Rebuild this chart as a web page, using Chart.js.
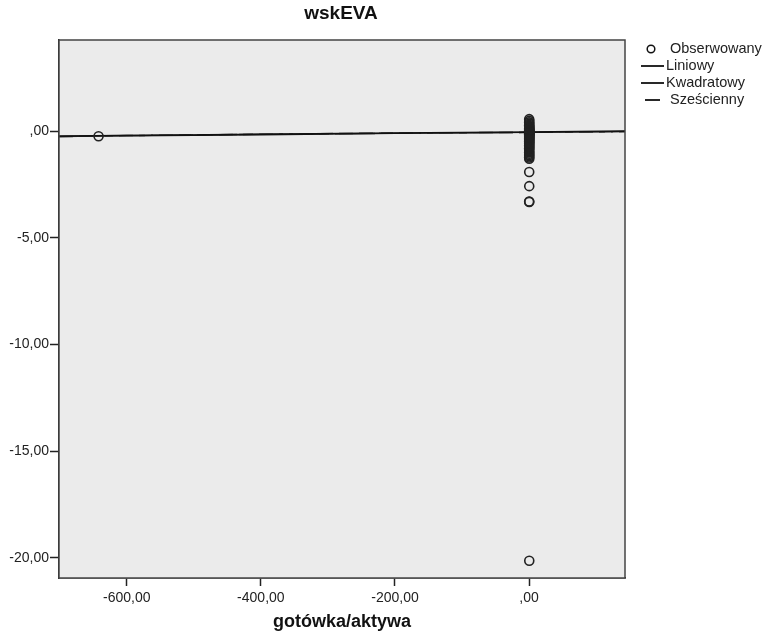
<!DOCTYPE html>
<html>
<head>
<meta charset="utf-8">
<script src="https://cdn.jsdelivr.net/npm/chart.js@4.4.0/dist/chart.umd.min.js"></script>
<style>
  html, body { margin: 0; padding: 0; background: #fff; }
  #wrap { width: 770px; height: 631px; }
</style>
</head>
<body>
<div id="wrap"><canvas id="chartCanvas" width="770" height="631"></canvas></div>
<script>
// observed values (gotówka/aktywa, wskEVA)
const obsX = [-642,
  0.12, 0.25, 0.08, 0.31, 0.18, 0.05, 0.22, 0.4, 0.15, 0.09,
  0.27, 0.11, 0.35, 0.2, 0.06, 0.14, 0.3, 0.24, 0.1, 0.17,
  0.38, 0.07, 0.21, 0.13, 0.28, 0.16, 0.33, 0.09, 0.19, 0.26,
  0.12, 0.36, 0.08, 0.23, 0.15, 0.29, 0.11, 0.2, 0.34, 0.06,
  0.18, 0.25, 0.1, 0.31, 0.14, 0.22, 0.09, 0.27,
  0.16, 0.21, 0.12, 0.19, 0.24];
const obsY = [-0.24,
  0.56, 0.48, 0.41, 0.35, 0.3, 0.25, 0.21, 0.17, 0.13, 0.1,
  0.07, 0.04, 0.02, 0.0, -0.02, -0.04, -0.06, -0.08, -0.1, -0.12,
  -0.14, -0.16, -0.18, -0.2, -0.23, -0.26, -0.29, -0.32, -0.35, -0.38,
  -0.42, -0.46, -0.5, -0.54, -0.58, -0.62, -0.67, -0.72, -0.77, -0.82,
  -0.88, -0.94, -1.0, -1.06, -1.12, -1.18, -1.24, -1.3,
  -1.92, -2.58, -3.3, -3.32, -20.14];

// fitted curves
const fitX = [-701, -600, -400, -200, 0, 143];
const linY = [-0.24, -0.21, -0.16, -0.1, -0.05, 0.0];
const quadY = [-0.25, -0.21, -0.15, -0.1, -0.06, -0.02];
const cubicY = [-0.26, -0.21, -0.15, -0.09, -0.06, -0.03];

const xTicks = [-600, -400, -200, 0];
const yTicks = [-20, -15, -10, -5, 0];

const FONT = "'Liberation Sans', Arial, sans-serif";

function fmt(v) {
  // SPSS style: comma decimal, no leading zero
  let s = Math.abs(v).toFixed(2).replace(".", ",");
  if (s.startsWith("0,")) s = s.slice(1);
  return (v < 0 ? "-" : "") + s;
}

function pairs(xs, ys) {
  return xs.map((x, i) => ({ x: x, y: ys[i] }));
}

const plotFrame = {
  id: "plotFrame",
  beforeDatasetsDraw(chart) {
    const a = chart.chartArea;
    const c = chart.ctx;
    c.save();
    c.fillStyle = "#ebebeb";
    c.fillRect(a.left, a.top, a.right - a.left, a.bottom - a.top);
    c.restore();
  },
  afterDraw(chart) {
    const a = chart.chartArea;
    const c = chart.ctx;
    c.save();
    c.strokeStyle = "#444";
    c.lineWidth = 1.5;
    c.strokeRect(a.left, a.top, a.right - a.left, a.bottom - a.top);
    c.restore();

    // legend, drawn from the datasets
    c.save();
    c.font = "14.5px " + FONT;
    c.fillStyle = "#222";
    c.textBaseline = "middle";
    const rows = [49, 66, 83, 100];
    chart.data.datasets.forEach((ds, i) => {
      const y = rows[i];
      c.strokeStyle = "#111";
      if (ds.type === "line") {
        c.lineWidth = 1.8;
        c.beginPath();
        if (i === 3) {
          c.moveTo(645, y);
          c.lineTo(660, y);
        } else {
          c.moveTo(641, y);
          c.lineTo(664, y);
        }
        c.stroke();
        c.fillText(ds.label, i === 3 ? 670 : 666, y);
      } else {
        c.lineWidth = 1.5;
        c.beginPath();
        c.arc(651, y, 3.8, 0, Math.PI * 2);
        c.stroke();
        c.fillText(ds.label, 670, y);
      }
    });
    c.restore();
  },
};

const ctx = document.getElementById("chartCanvas").getContext("2d");

const chart = new Chart(ctx, {
  type: "scatter",
  data: {
    datasets: [
      {
        label: "Obserwowany",
        data: pairs(obsX, obsY),
        borderColor: "#222",
        backgroundColor: "rgba(0,0,0,0)",
        borderWidth: 1.6,
        pointRadius: 4.5,
        order: 0,
      },
      {
        type: "line",
        label: "Liniowy",
        data: pairs(fitX, linY),
        borderColor: "#111",
        borderWidth: 1.8,
        pointRadius: 0,
        fill: false,
        order: 1,
      },
      {
        type: "line",
        label: "Kwadratowy",
        data: pairs(fitX, quadY),
        borderColor: "rgba(30,30,30,0.8)",
        borderWidth: 1.5,
        borderDash: [40, 6],
        pointRadius: 0,
        fill: false,
        order: 2,
      },
      {
        type: "line",
        label: "Sześcienny",
        data: pairs(fitX, cubicY),
        borderColor: "rgba(30,30,30,0.7)",
        borderWidth: 1.5,
        borderDash: [14, 6],
        pointRadius: 0,
        fill: false,
        order: 3,
      },
    ],
  },
  options: {
    responsive: false,
    animation: false,
    layout: { padding: { left: 0, right: 88, top: 0, bottom: 0 } },
    plugins: {
      legend: { display: false },
      tooltip: { enabled: false },
      title: {
        display: true,
        text: "wskEVA",
        color: "#111",
        font: { family: FONT, size: 19, weight: "bold" },
        padding: { top: 2, bottom: 15.2 },
      },
    },
    scales: {
      x: {
        type: "linear",
        min: -701,
        max: 143,
        afterBuildTicks(scale) {
          scale.ticks = xTicks.map((v) => ({ value: v }));
        },
        afterFit(scale) {
          scale.height = 53;
        },
        ticks: {
          callback: (v) => fmt(v),
          color: "#222",
          font: { family: FONT, size: 14 },
          padding: 4,
          maxRotation: 0,
        },
        grid: {
          drawOnChartArea: false,
          drawTicks: true,
          tickLength: 8,
          tickColor: "#222",
          tickWidth: 1.5,
        },
        border: { display: true, color: "#222", width: 1.5 },
        title: {
          display: true,
          text: "gotówka/aktywa",
          color: "#111",
          font: { family: FONT, size: 18, weight: "bold", lineHeight: 1 },
          padding: { top: 0, bottom: 0 },
        },
      },
      y: {
        type: "linear",
        min: -20.95,
        max: 4.27,
        afterBuildTicks(scale) {
          scale.ticks = yTicks.map((v) => ({ value: v }));
        },
        afterFit(scale) {
          scale.width = 59;
        },
        ticks: {
          callback: (v) => fmt(v),
          color: "#222",
          font: { family: FONT, size: 14 },
          padding: 1,
        },
        grid: {
          drawOnChartArea: false,
          drawTicks: true,
          tickLength: 9,
          tickColor: "#222",
          tickWidth: 1.5,
        },
        border: { display: true, color: "#222", width: 1.5 },
      },
      // empty right-hand strip so the title centres over the plot
      gap: {
        type: "linear",
        position: "right",
        min: 0,
        max: 1,
        afterFit(scale) {
          scale.width = 57;
        },
        ticks: { display: false },
        grid: { display: false },
        border: { display: false },
      },
    },
  },
  plugins: [plotFrame],
});
</script>
</body>
</html>
